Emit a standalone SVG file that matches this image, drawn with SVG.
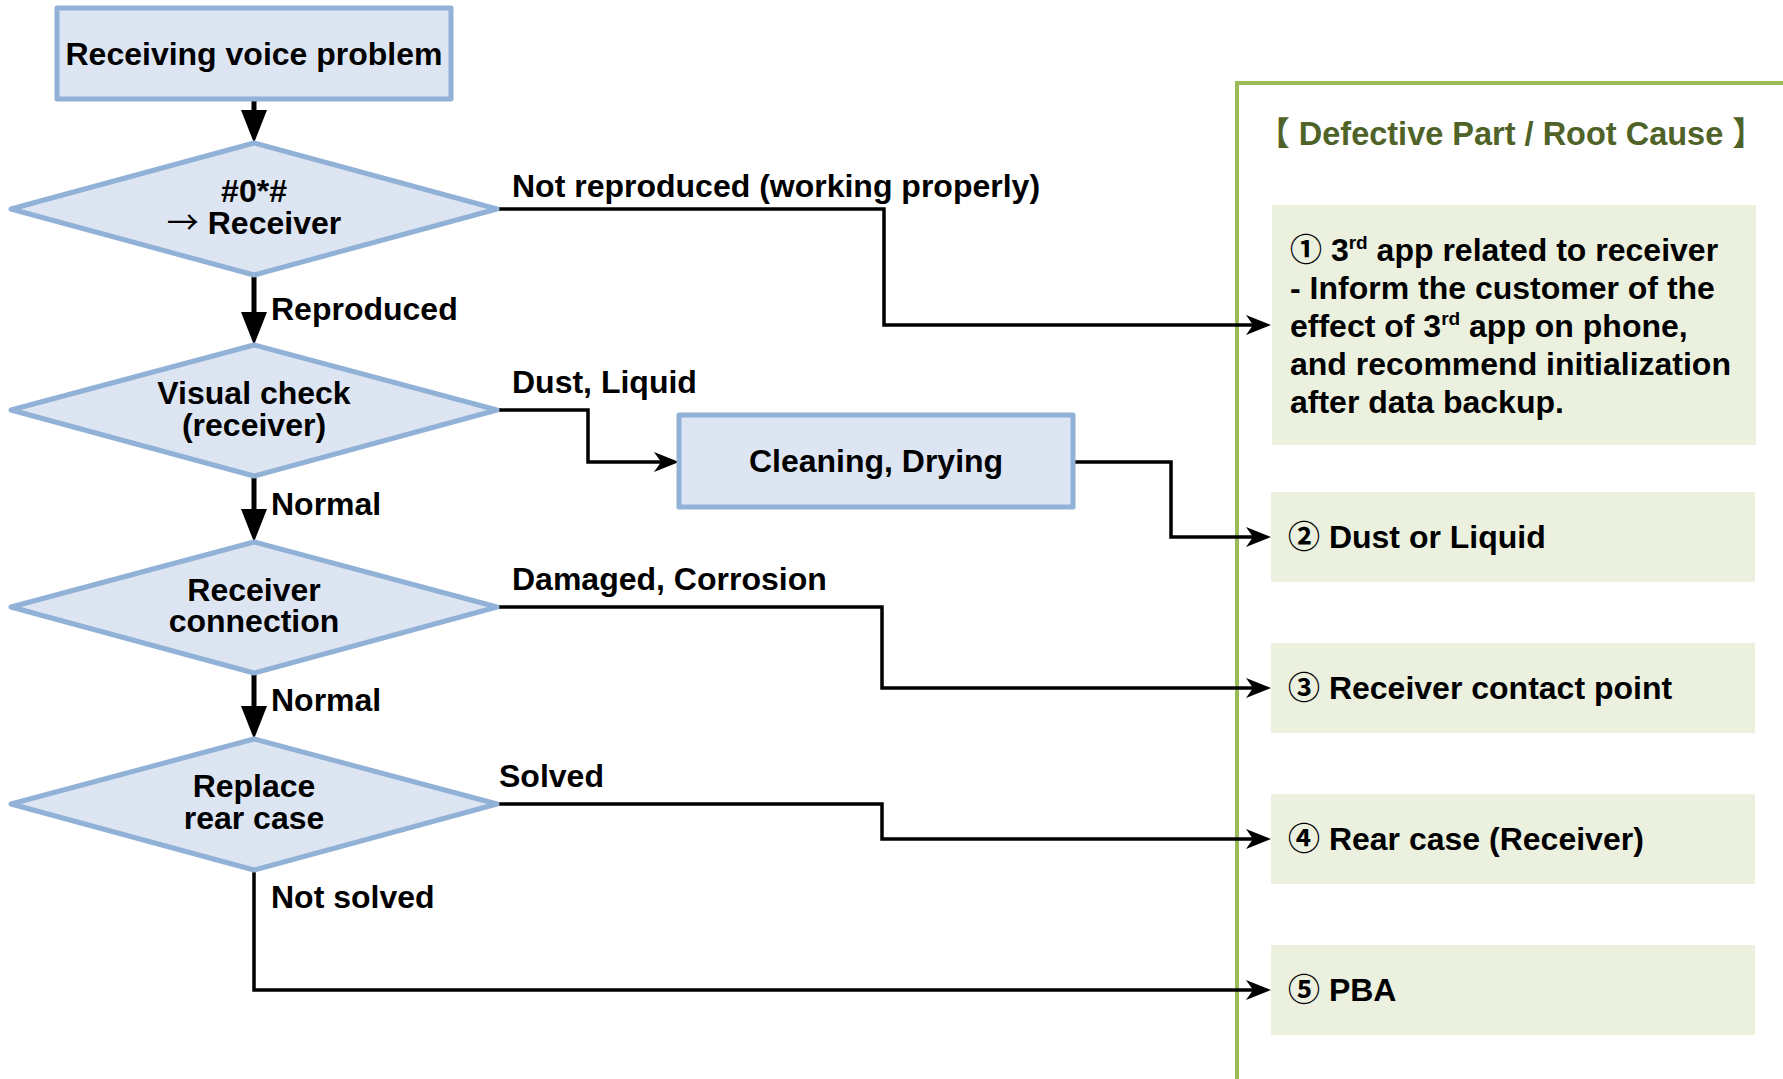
<svg xmlns="http://www.w3.org/2000/svg" width="1783" height="1079" viewBox="0 0 1783 1079">
<style>
text{font-family:"Liberation Sans",Arial,"Noto Sans CJK KR",sans-serif;font-weight:bold;font-size:32px;fill:#000}
.c{text-anchor:middle}
.node{fill:#DCE5F1;stroke:#92B1D7;stroke-width:5;stroke-linejoin:round}
.res{fill:#EBF1DE}
.frame{fill:none;stroke:#9BBB59;stroke-width:4}
.title{fill:#4F6228;font-size:32.5px}
.sym{font-family:"Noto Sans CJK KR",sans-serif;font-weight:bold}
.arr{font-family:"Noto Sans CJK KR",sans-serif;font-weight:normal}
.sup{font-size:19px}
.v{fill:none;stroke:#000;stroke-width:5}
.h{fill:none;stroke:#000;stroke-width:3.5}
</style>
<defs>
<marker id="tri" viewBox="0 0 33 26" markerWidth="33" markerHeight="26" refX="18" refY="13" orient="auto" markerUnits="userSpaceOnUse">
<path d="M0,0 L33,13 L0,26 Z" fill="#000"/>
</marker>
<marker id="stealth" viewBox="0 0 25 20" markerWidth="25" markerHeight="20" refX="13" refY="10" orient="auto" markerUnits="userSpaceOnUse">
<path d="M0,0 L25,10 L0,20 L7,10 Z" fill="#000"/>
</marker>
</defs>
<rect width="1783" height="1079" fill="#fff"/>

<g id="panel">
<rect class="frame" x="1237" y="83" width="560" height="1060"/>
<text class="title c" x="1511" y="145"><tspan class="sym">【</tspan> Defective Part / Root Cause <tspan class="sym">】</tspan></text>
</g>

<g id="connectors">
<path class="v" d="M254,99 V128" marker-end="url(#tri)"/>
<path class="h" d="M497,209 H884 V325 H1259" marker-end="url(#stealth)"/>
<path class="v" d="M254,275 V330" marker-end="url(#tri)"/>
<path class="h" d="M497,410 H588 V462 H667" marker-end="url(#stealth)"/>
<path class="h" d="M1073,462 H1171 V537 H1259" marker-end="url(#stealth)"/>
<path class="v" d="M254,476 V527" marker-end="url(#tri)"/>
<path class="h" d="M497,607 H882 V688 H1259" marker-end="url(#stealth)"/>
<path class="v" d="M254,673 V724" marker-end="url(#tri)"/>
<path class="h" d="M497,804 H882 V839 H1259" marker-end="url(#stealth)"/>
<path class="h" d="M254,870 V990 H1259" marker-end="url(#stealth)"/>
<text x="512" y="197">Not reproduced (working properly)</text>
<text x="271" y="320">Reproduced</text>
<text x="512" y="393">Dust, Liquid</text>
<text x="271" y="515">Normal</text>
<text x="512" y="590">Damaged, Corrosion</text>
<text x="271" y="711">Normal</text>
<text x="499" y="787">Solved</text>
<text x="271" y="908">Not solved</text>
</g>

<g id="start">
<rect class="node" x="57" y="8" width="394" height="91"/>
<text class="c" x="254" y="65">Receiving voice problem</text>
</g>
<g id="d1">
<polygon class="node" points="254,143 497,209 254,275 11,209"/>
<text class="c" x="254" y="202">#0*#</text>
<text class="c" x="254" y="234"><tspan class="arr">→</tspan> Receiver</text>
</g>
<g id="d2">
<polygon class="node" points="254,345 497,410 254,476 11,410"/>
<text class="c" x="254" y="404">Visual check</text>
<text class="c" x="254" y="436">(receiver)</text>
</g>
<g id="d3">
<polygon class="node" points="254,542 497,607 254,673 11,607"/>
<text class="c" x="254" y="601">Receiver</text>
<text class="c" x="254" y="632">connection</text>
</g>
<g id="d4">
<polygon class="node" points="254,739 497,804 254,870 11,804"/>
<text class="c" x="254" y="797">Replace</text>
<text class="c" x="254" y="829">rear case</text>
</g>
<g id="clean">
<rect class="node" x="679" y="415" width="394" height="92"/>
<text class="c" x="876" y="472">Cleaning, Drying</text>
</g>

<g id="r1">
<rect class="res" x="1272" y="205" width="484" height="240"/>
<text x="1290" y="261"><tspan class="sym">①</tspan> 3<tspan class="sup" dy="-12">rd</tspan><tspan dy="12"> app related to receiver</tspan></text>
<text x="1290" y="299">- Inform the customer of the</text>
<text x="1290" y="337">effect of 3<tspan class="sup" dy="-12">rd</tspan><tspan dy="12"> app on phone,</tspan></text>
<text x="1290" y="375">and recommend initialization</text>
<text x="1290" y="413">after data backup.</text>
</g>
<g id="r2">
<rect class="res" x="1271" y="492" width="484" height="90"/>
<text x="1288" y="548"><tspan class="sym">②</tspan> Dust or Liquid</text>
</g>
<g id="r3">
<rect class="res" x="1271" y="643" width="484" height="90"/>
<text x="1288" y="699"><tspan class="sym">③</tspan> Receiver contact point</text>
</g>
<g id="r4">
<rect class="res" x="1271" y="794" width="484" height="90"/>
<text x="1288" y="850"><tspan class="sym">④</tspan> Rear case (Receiver)</text>
</g>
<g id="r5">
<rect class="res" x="1271" y="945" width="484" height="90"/>
<text x="1288" y="1001"><tspan class="sym">⑤</tspan> PBA</text>
</g>
</svg>
